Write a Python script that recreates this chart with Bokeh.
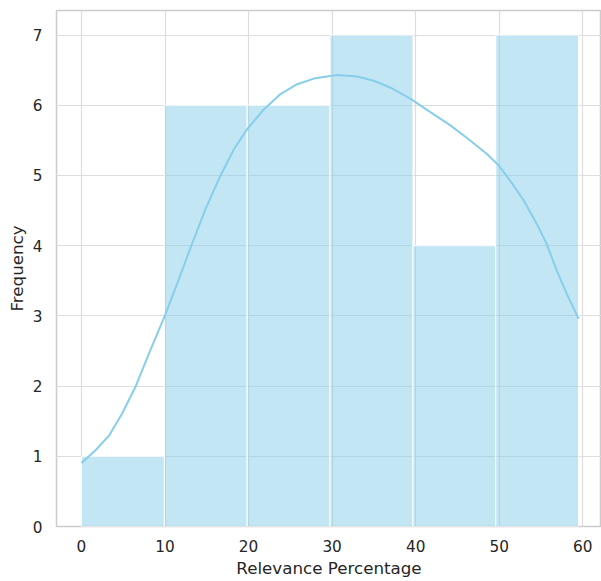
from bokeh.plotting import figure
from bokeh.models import Range1d, FixedTicker
from bokeh.embed import file_html
from bokeh.resources import INLINE

# Histogram data
bin_edges = [0, 9.92, 19.83, 29.75, 39.67, 49.58, 59.5]
counts = [1, 6, 6, 7, 4, 7]

# KDE curve
kde_x = [0, 1.68, 3.27, 4.87, 6.46, 8.06, 9.97, 11.65, 13.05, 14.84, 16.64,
         18.23, 19.83, 21.82, 23.82, 25.82, 27.8, 30.6, 33.0, 35.0, 37.0,
         39.4, 41.8, 44.2, 46.6, 48.6, 49.95, 51.35, 52.95, 54.5, 55.7,
         56.9, 58.1, 59.5]
kde_y = [0.905, 1.086, 1.29, 1.61, 1.99, 2.46, 3.0, 3.52, 3.97, 4.52, 5.0,
         5.37, 5.66, 5.94, 6.16, 6.30, 6.38, 6.43, 6.41, 6.35, 6.25,
         6.09, 5.9, 5.71, 5.49, 5.30, 5.14, 4.92, 4.64, 4.31, 4.02,
         3.64, 3.31, 2.96]

x_ticks = [0, 10, 20, 30, 40, 50, 60]
y_ticks = [0, 1, 2, 3, 4, 5, 6, 7]

p = figure(width=601, height=581, output_backend="svg", toolbar_location=None,
           x_range=Range1d(-2.99, 62.24), y_range=Range1d(0, 7.35),
           min_border_left=56, min_border_top=10, min_border_right=0,
           min_border_bottom=55)

p.quad(left=bin_edges[:-1], right=bin_edges[1:], top=counts, bottom=0,
       fill_color="#87ceeb", fill_alpha=0.5, line_color="white", line_width=1)
p.line(kde_x, kde_y, line_color="#87ceeb", line_width=2)

p.outline_line_color = "#cccccc"
p.outline_line_width = 1.5
p.background_fill_color = "white"
p.border_fill_color = "white"

for ax in (p.xaxis[0], p.yaxis[0]):
    ax.axis_line_color = None
    ax.major_tick_line_color = None
    ax.minor_tick_line_color = None
    ax.major_tick_out = 0
    ax.major_tick_in = 0
    ax.minor_tick_out = 0
    ax.minor_tick_in = 0
    ax.major_label_text_font = "DejaVu Sans"
    ax.major_label_text_font_size = "15.3px"
    ax.major_label_text_color = "#262626"
    ax.axis_label_text_font = "DejaVu Sans"
    ax.axis_label_text_font_size = "16.7px"
    ax.axis_label_text_font_style = "normal"
    ax.axis_label_text_color = "#262626"

p.xaxis.ticker = FixedTicker(ticks=x_ticks)
p.yaxis.ticker = FixedTicker(ticks=y_ticks)
p.xaxis.axis_label = "Relevance Percentage"
p.yaxis.axis_label = "Frequency"
p.xaxis.major_label_standoff = 13
p.yaxis.major_label_standoff = 14
p.xaxis.axis_label_standoff = 3
p.yaxis.axis_label_standoff = 3

p.xgrid.grid_line_color = "#dddddd"
p.ygrid.grid_line_color = "#dddddd"
p.xgrid.grid_line_width = 1.2
p.ygrid.grid_line_width = 1.2

open("out.html", "w").write(file_html(p, INLINE))
